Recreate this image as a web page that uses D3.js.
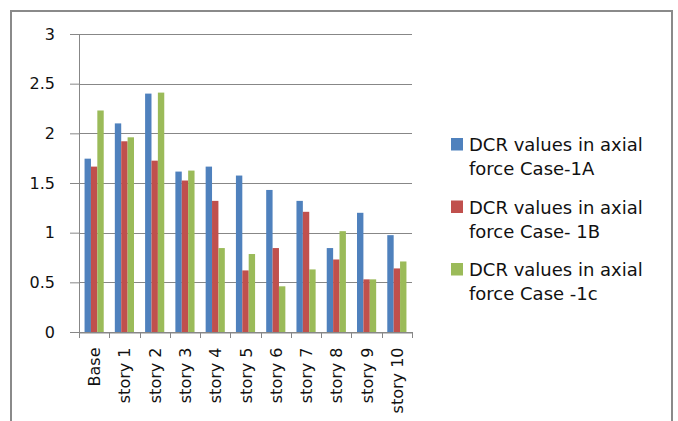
<!DOCTYPE html>
<html>
<head>
<meta charset="utf-8">
<script src="https://cdn.jsdelivr.net/npm/d3@7"></script>
<style>
  html, body { margin: 0; padding: 0; background: #fff; }
  svg { display: block; }
  text { font-family: "DejaVu Sans", sans-serif; fill: #111; }
</style>
</head>
<body>
<div id="chart"></div>
<script>
// data
const categories = ["Base", "story 1", "story 2", "story 3", "story 4", "story 5",
                    "story 6", "story 7", "story 8", "story 9", "story 10"];
const caseA = [1.745, 2.10, 2.40, 1.615, 1.665, 1.575, 1.43, 1.32, 0.845, 1.20, 0.975];
const caseB = [1.665, 1.92, 1.725, 1.525, 1.32, 0.62, 0.845, 1.21, 0.73, 0.53, 0.64];
const caseC = [2.23, 1.96, 2.41, 1.625, 0.845, 0.785, 0.46, 0.63, 1.015, 0.53, 0.71];
const seriesNames = ["DCR values in axial force Case-1A",
                     "DCR values in axial force Case- 1B",
                     "DCR values in axial force Case -1c"];
const legendLines = [["DCR values in axial", "force Case-1A"],
                     ["DCR values in axial", "force Case- 1B"],
                     ["DCR values in axial", "force Case -1c"]];
const colors = ["#4F81BD", "#C0504D", "#9BBB59"];
const yTicks = [0, 0.5, 1, 1.5, 2, 2.5, 3];

const W = 678, H = 421;
const svg = d3.select("#chart").append("svg")
    .attr("width", W).attr("height", H);

// outer chart border
svg.append("rect")
    .attr("x", 11).attr("y", 11)
    .attr("width", 661).attr("height", 430)
    .attr("fill", "none").attr("stroke", "#8a8a8a").attr("stroke-width", 2);

const plot = { left: 79, right: 412, top: 34, bottom: 332 };

const x0 = d3.scaleBand().domain(categories).range([plot.left, plot.right]);
const x1 = d3.scaleBand().domain([0, 1, 2])
    .range([0, x0.bandwidth()]).paddingInner(0).paddingOuter(0.87);
const y = d3.scaleLinear().domain([0, 3]).range([plot.bottom, plot.top]);

// gridlines + y labels
const yAxis = svg.append("g")
    .attr("transform", `translate(${plot.left},0)`)
    .call(d3.axisLeft(y).tickValues(yTicks).tickSize(9).tickPadding(15)
        .tickFormat(d3.format("")));
yAxis.select(".domain").remove();
yAxis.selectAll(".tick line").attr("stroke", "#878787");
yAxis.selectAll(".tick text").style("font-size", "16px").attr("fill", "#111");

svg.append("g").selectAll("line")
    .data(yTicks)
    .join("line")
    .attr("x1", plot.left).attr("x2", plot.right)
    .attr("y1", d => Math.round(y(d)) + 0.5).attr("y2", d => Math.round(y(d)) + 0.5)
    .attr("stroke", "#878787");

// bars
const series = [caseA, caseB, caseC];
const groups = svg.append("g").selectAll("g")
    .data(categories)
    .join("g")
    .attr("transform", d => `translate(${x0(d)},0)`);

groups.selectAll("rect")
    .data((d, i) => series.map((s, k) => ({ k: k, v: s[i] })))
    .join("rect")
    .attr("x", d => x1(d.k))
    .attr("width", x1.bandwidth())
    .attr("y", d => y(d.v))
    .attr("height", d => y(0) - y(d.v))
    .attr("fill", d => colors[d.k]);

// y axis line
svg.append("line")
    .attr("x1", plot.left + 0.5).attr("x2", plot.left + 0.5)
    .attr("y1", plot.top).attr("y2", plot.bottom)
    .attr("stroke", "#878787");

// x axis
const xAxis = svg.append("g")
    .attr("transform", `translate(0,${plot.bottom + 0.5})`)
    .call(d3.axisBottom(x0).tickSize(0).tickPadding(0));
xAxis.select(".domain").attr("stroke", "#878787");
xAxis.selectAll(".tick line").remove();
xAxis.selectAll(".tick text")
    .style("font-size", "16px")
    .attr("text-anchor", "end")
    .attr("transform", "translate(6,15) rotate(-90)")
    .attr("dy", 0).attr("y", 0);

// category boundary ticks
svg.append("g").selectAll("line")
    .data(d3.range(categories.length + 1))
    .join("line")
    .attr("x1", i => Math.round(plot.left + i * x0.step()) + 0.5)
    .attr("x2", i => Math.round(plot.left + i * x0.step()) + 0.5)
    .attr("y1", plot.bottom).attr("y2", plot.bottom + 6)
    .attr("stroke", "#878787");

// legend
const legend = svg.append("g").selectAll("g")
    .data(seriesNames)
    .join("g")
    .attr("transform", (d, i) => `translate(451,${151 + i * 62.5})`);

legend.append("rect")
    .attr("x", 0).attr("y", -13)
    .attr("width", 12).attr("height", 12.5)
    .attr("fill", (d, i) => colors[i]);

legend.append("text")
    .style("font-size", "18px")
    .selectAll("tspan")
    .data((d, i) => legendLines[i])
    .join("tspan")
    .attr("x", 18)
    .attr("y", (d, j) => j * 24)
    .text(d => d);
</script>
</body>
</html>
